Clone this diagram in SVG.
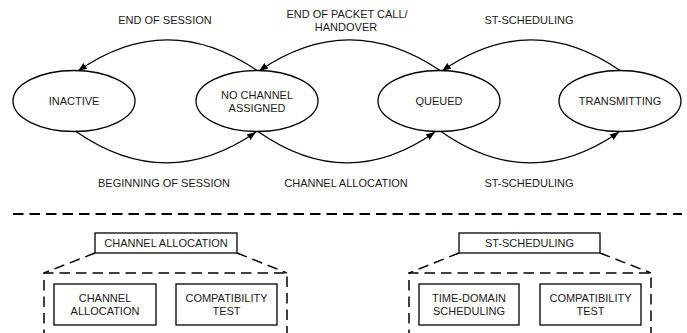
<svg xmlns="http://www.w3.org/2000/svg" width="687" height="333" viewBox="0 0 687 333">
<style>
  text { font-family: "Liberation Sans", Arial, sans-serif; font-size: 11px; fill: #1a1a1a; text-anchor: middle; }
  .state { fill: #fff; stroke: #000; stroke-width: 1.3; }
  .box { fill: #fff; stroke: #000; stroke-width: 1.3; }
  .arc { fill: none; stroke: #000; stroke-width: 1.3; marker-end: url(#ah); }
  .dash { fill: none; stroke: #000; stroke-width: 1.5; stroke-dasharray: 10.5 6; }
  .sep { fill: none; stroke: #000; stroke-width: 1.8; stroke-dasharray: 10.5 6; }
</style>
<defs>
  <marker id="ah" markerUnits="userSpaceOnUse" markerWidth="10" markerHeight="8" refX="9" refY="3.5" orient="auto">
    <path d="M0,0 L9,3.5 L0,7 z" fill="#000"/>
  </marker>
</defs>
<rect width="687" height="333" fill="#fff"/>

<g id="connectors">
  <path class="arc" d="M257,70.5 Q167,9 78,71"/>
  <path class="arc" d="M440,70.5 Q349,9 259,71"/>
  <path class="arc" d="M620,70.5 Q531,9 442,71"/>
  <path class="arc" d="M76,131.5 Q166,194 256,132"/>
  <path class="arc" d="M258,131.5 Q347,194 435,132"/>
  <path class="arc" d="M441,131.5 Q530,194 619,132"/>
</g>

<g id="labels">
  <text x="165" y="24">END OF SESSION</text>
  <text x="347" y="18">END OF PACKET CALL/</text>
  <text x="346" y="31">HANDOVER</text>
  <text x="529" y="24">ST-SCHEDULING</text>
  <text x="164" y="187">BEGINNING OF SESSION</text>
  <text x="346" y="187">CHANNEL ALLOCATION</text>
  <text x="529" y="187">ST-SCHEDULING</text>
</g>

<g id="inactive">
  <ellipse class="state" cx="74" cy="101" rx="61" ry="30.5"/>
  <text x="74" y="105">INACTIVE</text>
</g>
<g id="no-channel-assigned">
  <ellipse class="state" cx="257" cy="101" rx="61" ry="30.5"/>
  <text x="257" y="99">NO CHANNEL</text>
  <text x="257" y="112">ASSIGNED</text>
</g>
<g id="queued">
  <ellipse class="state" cx="439" cy="101" rx="61" ry="30.5"/>
  <text x="439" y="105">QUEUED</text>
</g>
<g id="transmitting">
  <ellipse class="state" cx="620" cy="101" rx="61" ry="30.5"/>
  <text x="620" y="105">TRANSMITTING</text>
</g>

<path class="sep" d="M13,214 H682"/>

<g id="channel-allocation-detail">
  <rect class="box" x="95" y="233" width="142" height="20"/>
  <text x="166" y="247">CHANNEL ALLOCATION</text>
  <path class="dash" d="M95,253 L44,273"/>
  <path class="dash" d="M237,253 L287,273"/>
  <path class="dash" d="M44,340 V273 H287 V340"/>
  <g id="ca-channel-allocation">
    <rect class="box" x="54" y="284" width="102" height="41"/>
    <text x="105" y="302">CHANNEL</text>
    <text x="105" y="315">ALLOCATION</text>
  </g>
  <g id="ca-compatibility-test">
    <rect class="box" x="176" y="284" width="101" height="41"/>
    <text x="226.5" y="302">COMPATIBILITY</text>
    <text x="226.5" y="315">TEST</text>
  </g>
</g>

<g id="st-scheduling-detail">
  <rect class="box" x="459" y="233" width="141" height="20"/>
  <text x="529.5" y="247">ST-SCHEDULING</text>
  <path class="dash" d="M459,253 L409,273"/>
  <path class="dash" d="M600,253 L651,273"/>
  <path class="dash" d="M409,340 V273 H651 V340"/>
  <g id="st-time-domain-scheduling">
    <rect class="box" x="419" y="284" width="100" height="41"/>
    <text x="469" y="302">TIME-DOMAIN</text>
    <text x="469" y="315">SCHEDULING</text>
  </g>
  <g id="st-compatibility-test">
    <rect class="box" x="540" y="284" width="101" height="41"/>
    <text x="590.5" y="302">COMPATIBILITY</text>
    <text x="590.5" y="315">TEST</text>
  </g>
</g>
</svg>
